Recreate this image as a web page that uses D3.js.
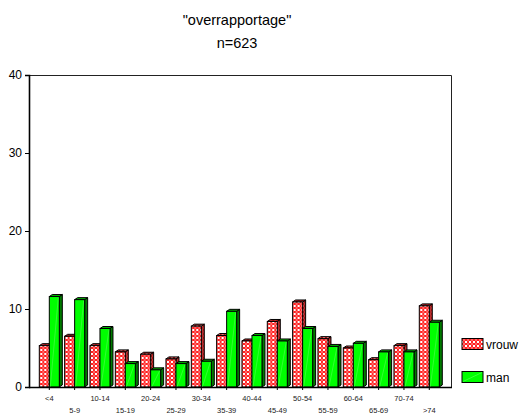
<!DOCTYPE html>
<html>
<head>
<meta charset="utf-8">
<script src="https://cdn.jsdelivr.net/npm/d3@7/dist/d3.min.js"></script>
<style>
  html, body { margin: 0; padding: 0; background: #fff; }
  svg { display: block; font-family: Arial, "Liberation Sans", sans-serif; }
</style>
</head>
<body>
<svg id="chart" width="520" height="414"></svg>
<script>
// Age groups and percentage per sex
const categories = ["<4", "5-9", "10-14", "15-19", "20-24", "25-29", "30-34", "35-39",
                    "40-44", "45-49", "50-54", "55-59", "60-64", "65-69", "70-74", ">74"];
const vrouw = [5.3, 6.5, 5.3, 4.5, 4.2, 3.6, 7.8, 6.6, 5.9, 8.4, 10.9, 6.2, 5.0, 3.5, 5.3, 10.4];
const man   = [11.6, 11.2, 7.5, 3.0, 2.2, 3.0, 3.3, 9.7, 6.6, 5.9, 7.5, 5.2, 5.6, 4.5, 4.5, 8.3];
const seriesNames = ["vrouw", "man"];
const yTicks = [0, 10, 20, 30, 40];
const title = "\"overrapportage\"";
const subtitle = "n=623";

const svg = d3.select("#chart");
const plot = { left: 29, right: 452, top: 75, bottom: 387 };

// patterns: red cross-hatch for "vrouw"
const defs = svg.append("defs");
function hatch(id, bg, dot) {
  const p = defs.append("pattern").attr("id", id)
    .attr("patternUnits", "userSpaceOnUse").attr("width", 4).attr("height", 4);
  p.append("rect").attr("width", 4).attr("height", 4).attr("fill", bg);
  p.append("circle").attr("cx", 2).attr("cy", 2).attr("r", 1.3).attr("fill", dot);
  [[0, 0], [4, 0], [0, 4], [4, 4]].forEach(([cx, cy]) =>
    p.append("circle").attr("cx", cx).attr("cy", cy).attr("r", 0.75).attr("fill", dot));
}
hatch("hatchFront", "#ff0000", "#ffffff");
hatch("hatchSide", "#a00000", "#e08080");

const style = {
  vrouw: { front: "url(#hatchFront)", side: "url(#hatchSide)", top: "url(#hatchSide)" },
  man:   { front: "#00ff00", side: "#007a00", top: "#00b000" }
};

// scales
const x = d3.scaleBand().domain(categories).range([39.3, 439.3]).paddingInner(0.21).paddingOuter(0);
const xs = d3.scaleBand().domain(seriesNames).range([0, x.bandwidth()]);
const y = d3.scaleLinear().domain([0, 40]).range([plot.bottom, plot.top]);

// titles
svg.append("text").attr("x", 237).attr("y", 25).attr("text-anchor", "middle")
  .attr("font-size", 14.5).text(title);
svg.append("text").attr("x", 237).attr("y", 47.5).attr("text-anchor", "middle")
  .attr("font-size", 14.5).text(subtitle);

// plot frame
svg.append("path")
  .attr("d", `M${plot.left},${plot.top + 0.5}H${plot.right - 0.5}V${plot.bottom}`)
  .attr("fill", "none").attr("stroke", "#222").attr("stroke-width", 1);

// bars with a shallow 3D look
const dx = 3, dy = 2;
const data = categories.map((c, i) => ({ c, vals: [{ k: "vrouw", v: vrouw[i] }, { k: "man", v: man[i] }] }));
const groups = svg.append("g").selectAll("g").data(data).join("g")
  .attr("transform", d => `translate(${x(d.c)},0)`);

groups.each(function (d) {
  const g = d3.select(this);
  d.vals.forEach(b => {
    const x0 = xs(b.k), x1 = x0 + xs.bandwidth();
    const yt = y(b.v), y0 = y(0);
    const st = style[b.k];
    g.append("path")
      .attr("d", `M${x1},${y0}V${yt}L${x1 + dx},${yt - dy}V${y0 - dy}Z`)
      .attr("fill", st.side).attr("stroke", "#000").attr("stroke-width", 1);
    g.append("path")
      .attr("d", `M${x0},${yt}L${x0 + dx},${yt - dy}H${x1 + dx}L${x1},${yt}Z`)
      .attr("fill", st.top).attr("stroke", "#000").attr("stroke-width", 1);
    g.append("rect").attr("x", x0).attr("y", yt).attr("width", x1 - x0).attr("height", y0 - yt)
      .attr("fill", st.front).attr("stroke", "#000").attr("stroke-width", 1);
    if (b.k === "man") {
      g.append("line").attr("x1", x0 + 1).attr("y1", y0).attr("x2", x1 - 1).attr("y2", yt + 1)
        .attr("stroke", "#8f8").attr("stroke-width", 0.6).attr("opacity", 0.6);
    }
  });
});

// y axis
const yAxis = svg.append("g").attr("transform", `translate(${plot.left},0)`)
  .call(d3.axisLeft(y).tickValues(yTicks).tickSize(4).tickPadding(3));
yAxis.select(".domain").attr("stroke", "#000").attr("stroke-width", 1.6);
yAxis.selectAll("text").attr("font-size", 12).attr("font-family", "Arial, 'Liberation Sans', sans-serif").attr("fill", "#000");

// x axis
const xAxis = svg.append("g").attr("transform", `translate(0,${plot.bottom})`)
  .call(d3.axisBottom(x).tickSize(3).tickSizeOuter(0));
xAxis.select(".domain").attr("d", `M${plot.left},0.5H${plot.right}`).attr("stroke", "#000").attr("stroke-width", 1.6);
xAxis.selectAll("text")
  .attr("font-size", 7.5).attr("font-family", "Arial, 'Liberation Sans', sans-serif").attr("fill", "#222")
  .attr("dy", null)
  .attr("y", (d, i) => i % 2 === 0 ? 14 : 26);

// legend
const legend = svg.append("g");
seriesNames.forEach((k, i) => {
  const ly = 338.5 + i * 33;
  legend.append("rect").attr("x", 462).attr("y", ly).attr("width", 21).attr("height", 11)
    .attr("fill", style[k].front).attr("stroke", "#000").attr("stroke-width", 1);
  if (k === "man") {
    legend.append("line").attr("x1", 463).attr("y1", ly + 10).attr("x2", 482).attr("y2", ly + 1)
      .attr("stroke", "#8f8").attr("stroke-width", 0.6).attr("opacity", 0.7);
  }
  legend.append("text").attr("x", 486).attr("y", ly + 10).attr("font-size", 12).text(k);
});
</script>
</body>
</html>
